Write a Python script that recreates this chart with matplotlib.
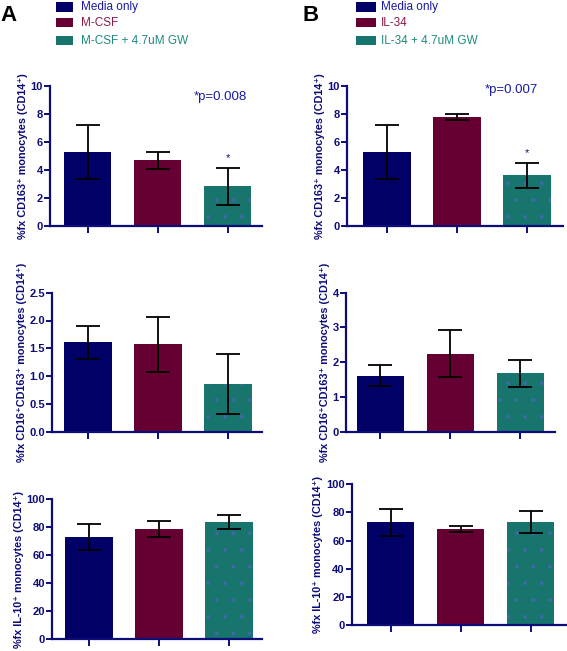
import numpy as np
import matplotlib
matplotlib.use('Agg')
import matplotlib.pyplot as plt
from matplotlib.patches import Rectangle

plt.rcParams['font.family'] = ['Liberation Sans', 'DejaVu Sans']
plt.rcParams['hatch.linewidth'] = 0.3

## Data (mean and error bar half-length)
groups_a = ['Media only', 'M-CSF', 'M-CSF + 4.7uM GW']
groups_b = ['Media only', 'IL-34', 'IL-34 + 4.7uM GW']

a_cd163 = [5.3, 4.68, 2.85]
a_cd163_err = [1.91, 0.58, 1.32]
a_cd16 = [1.61, 1.57, 0.85]
a_cd16_err = [0.30, 0.49, 0.54]
a_il10 = [72.8, 78.5, 83.8]
a_il10_err = [9.3, 5.7, 5.0]

b_cd163 = [5.3, 7.8, 3.62]
b_cd163_err = [1.91, 0.23, 0.91]
b_cd16 = [1.61, 2.25, 1.68]
b_cd16_err = [0.30, 0.68, 0.39]
b_il10 = [73.0, 68.2, 73.0]
b_il10_err = [9.5, 2.1, 7.9]

ylabels = ['%fx CD163\u207a monocytes (CD14\u207a)',
           '%fx CD16\u207aCD163\u207a monocytes (CD14\u207a)',
           '%fx IL-10\u207a monocytes (CD14\u207a)']
ylims = [(0, 10), (0, 2.5), (0, 100)]
yticks = [np.arange(0, 11, 2), np.arange(0, 2.51, 0.5), np.arange(0, 101, 20)]
ytick_fmt = ['%d', '%.1f', '%d']
b_ylims = [(0, 10), (0, 4), (0, 100)]
b_yticks = [np.arange(0, 11, 2), np.arange(0, 5, 1), np.arange(0, 101, 20)]
b_fmt = ['%d', '%d', '%d']
pvals = {'A': '*p=0.008', 'B': '*p=0.007'}

bar_colors = ['#000066', '#660033', '#17756d']
text_colors = ['#1a1aa8', '#8a1a4a', '#1f8a80']
navy = '#0d0d7a'

W, H = 567, 651
fig = plt.figure(figsize=(W / 100, H / 100), dpi=100)

# pixel layout: left, right, y of zero, y of top, center of first bar
layout = {
    'A': [(50, 262, 226, 86, 87.5), (52, 262, 431.7, 292.7, 87.8), (52, 262, 639, 499.3, 89)],
    'B': [(346.7, 563, 226, 86, 386.7), (345.7, 555, 431.7, 292.7, 380.3), (351.7, 566, 625, 484.3, 390.5)],
}
series = {
    'A': [(a_cd163, a_cd163_err), (a_cd16, a_cd16_err), (a_il10, a_il10_err)],
    'B': [(b_cd163, b_cd163_err), (b_cd16, b_cd16_err), (b_il10, b_il10_err)],
}

spacing = 70.0
x = np.arange(3)

for panel in ['A', 'B']:
    for i, (l, r, y0, y1, c0) in enumerate(layout[panel]):
        ax = fig.add_axes([l / W, 1 - y0 / H, (r - l) / W, (y0 - y1) / H])
        vals, errs = series[panel][i]
        ax.bar(x, vals, width=0.68, color=bar_colors, edgecolor='none', zorder=2)
        # speckled fill of the GW bar
        ax.bar(x[2], vals[2], width=0.68, color='none', edgecolor='#3f68a8',
               hatch='.', linewidth=0, zorder=2.5)
        ax.errorbar(x, vals, yerr=errs, fmt='none', ecolor='black', elinewidth=1.3,
                    capsize=8.5, capthick=1.3, zorder=3)
        ax.set_xlim((l - c0) / spacing, (r - c0) / spacing)
        if panel == 'A':
            lim, ticks, fmt = ylims[i], yticks[i], ytick_fmt[i]
        else:
            lim, ticks, fmt = b_ylims[i], b_yticks[i], b_fmt[i]
        ax.set_ylim(*lim)
        ax.set_yticks(ticks)
        ax.set_yticklabels([fmt % t for t in ticks])
        ax.set_xticks(x)
        ax.set_xticklabels([])
        for s in ['top', 'right']:
            ax.spines[s].set_visible(False)
        for s in ['left', 'bottom']:
            ax.spines[s].set_color(navy)
            ax.spines[s].set_linewidth(1.6)
        ax.tick_params(axis='y', colors=navy, length=4, width=1.4, pad=1,
                       labelsize=8)
        ax.tick_params(axis='x', colors=navy, length=5, width=1.4)
        for t in ax.get_yticklabels():
            t.set_fontweight('bold')
        ax.set_ylabel(ylabels[i], fontsize=7.8, fontweight='bold', color=navy, labelpad=2)
        ax.set_facecolor('none')
        if i == 0:
            if panel == 'A':
                ax.text(1.9, 9.2, pvals['A'], ha='center', va='center',
                        fontsize=9.5, color='#1a1aa8')
            else:
                ax.text(1.78, 9.7, pvals['B'], ha='center', va='center',
                        fontsize=9.5, color='#1a1aa8')
            ax.text(2, vals[2] + errs[2] + 0.35, '*', ha='center', va='bottom',
                    fontsize=8, color=navy)

## Panel letters and legends
fig.text(0 / W, 1 - 21 / H, 'A', fontsize=16, fontweight='bold', color='black')
fig.text(302 / W, 1 - 21 / H, 'B', fontsize=16, fontweight='bold', color='black')

rows_y = [7, 22.5, 40.5]
for panel, names, bx0, bx1, tx in [('A', groups_a, 55.7, 72.7, 81), ('B', groups_b, 356, 375.5, 381)]:
    for j, name in enumerate(names):
        yc = rows_y[j]
        fig.patches.append(Rectangle((bx0 / W, 1 - (yc + 4.5) / H), (bx1 - bx0) / W, 9 / H,
                                     transform=fig.transFigure, facecolor=bar_colors[j],
                                     edgecolor='none'))
        fig.text(tx / W, 1 - yc / H, name, fontsize=8.5, color=text_colors[j],
                 ha='left', va='center')

fig.savefig('out.png', dpi=100)
